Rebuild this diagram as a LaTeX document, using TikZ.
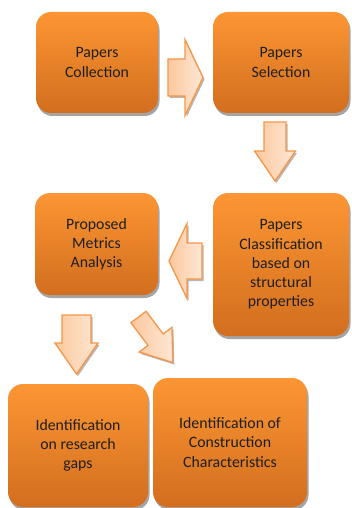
\documentclass[tikz,border=0pt]{standalone}
\usepackage{fontspec}
\setmainfont{Carlito}
\usetikzlibrary{shadows}
\definecolor{boxtop}{RGB}{252,150,52}
\definecolor{boxmid}{RGB}{242,138,44}
\definecolor{boxbot}{RGB}{210,110,30}
\definecolor{arrline}{RGB}{247,150,70}
\definecolor{arrdark}{RGB}{251,200,158}
\definecolor{arrlight}{RGB}{254,231,212}
\definecolor{shadowgray}{RGB}{165,165,165}
\definecolor{txt}{RGB}{30,30,30}
\tikzset{
  box/.style={rectangle, rounded corners=15pt, top color=boxtop, middle color=boxmid, bottom color=boxbot,
    draw=none, align=center, text=txt, inner sep=2pt,
    font=\fontsize{15.8}{19.2}\selectfont,
    drop shadow={shadow xshift=1.5pt, shadow yshift=-3pt, fill=shadowgray, opacity=1}},
  blockarr/.style={draw=arrline, line width=1.3pt, line join=miter, left color=arrdark, right color=arrlight,
    drop shadow={shadow xshift=1.5pt, shadow yshift=-2pt, fill=shadowgray, opacity=0.8}}
}
% #1 x, #2 y (tail middle), #3 angle, #4 length, #5 head length, #6 half shaft, #7 half head
\newcommand\blockarrow[7]{%
  \begin{scope}[shift={(#1,#2)}, rotate=#3]
    \draw[blockarr] (0,-#6) -- ({#4-#5},-#6) -- ({#4-#5},-#7) -- (#4,0) -- ({#4-#5},#7) -- ({#4-#5},#6) -- (0,#6) -- cycle;
  \end{scope}}
\begin{document}
\begin{tikzpicture}[x=1pt,y=-1pt]
\useasboundingbox (0,0) rectangle (352,508);
\node[box, minimum width=122pt, minimum height=101pt] (b1) at (97,62.5) {Papers\\Collection};
\node[box, minimum width=136pt, minimum height=101pt] (b2) at (281,62.5) {Papers\\Selection};
\node[box, minimum width=123pt, minimum height=102pt] (b3) at (96.5,244) {Proposed\\Metrics\\Analysis};
\node[box, minimum width=136pt, minimum height=143pt] (b4) at (281,264.5) {Papers\\Classification\\based on\\structural\\properties};
\node[box, minimum width=140pt, minimum height=123pt] (b5) at (78,445.5) {Identification\\on research\\gaps};
\node[box, minimum width=154pt, minimum height=129pt] (b6) at (230,442.5) {Identification of\\Construction\\Characteristics};
% block arrows
\blockarrow{168}{77.5}{0}{35}{18}{18.5}{38}
\blockarrow{275}{122}{-90}{59}{30}{11}{20.5}
\blockarrow{202}{261}{180}{33}{18}{18}{37.5}
\blockarrow{76.5}{315}{-90}{59}{31}{14.5}{21.5}
\blockarrow{138.5}{317}{-53}{57}{28.6}{9.5}{20.5}
\end{tikzpicture}
\end{document}
